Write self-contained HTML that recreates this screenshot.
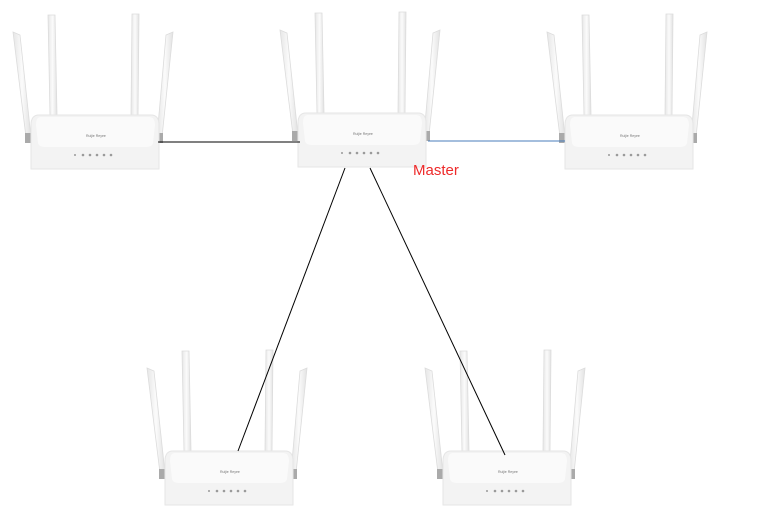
<!DOCTYPE html>
<html><head><style>
html,body{margin:0;padding:0;background:#fff;width:770px;height:523px;overflow:hidden}
</style></head><body>
<svg width="770" height="523" viewBox="0 0 770 523" xmlns="http://www.w3.org/2000/svg">
<defs>
<linearGradient id="ant" x1="0" x2="1" y1="0" y2="0">
<stop offset="0" stop-color="#e6e6e6"/><stop offset="0.5" stop-color="#fbfbfb"/><stop offset="1" stop-color="#e2e2e2"/>
</linearGradient>
<g id="r">
<polygon points="-18,-83 -11,-80 0,22 -5,22" fill="url(#ant)" stroke="#dcdcdc" stroke-width="0.8"/>
<rect x="-6" y="18" width="7" height="10" fill="#aaa"/>
<polygon points="142,-83 135,-80 126,22 131,22" fill="url(#ant)" stroke="#dcdcdc" stroke-width="0.8"/>
<rect x="125" y="18" width="7" height="10" fill="#aaa"/>
<polygon points="17,-100 24,-100 26,0 19,0" fill="url(#ant)" stroke="#dcdcdc" stroke-width="0.8"/>
<polygon points="101,-101 108,-101 107,0 100,0" fill="url(#ant)" stroke="#dcdcdc" stroke-width="0.8"/>
<path d="M8,0 H120 Q128,0 128,10 V54 H0 V10 Q0,0 8,0 Z" fill="#f3f3f3" stroke="#e6e6e6"/>
<path d="M10,2 H118 Q124,2 124,10 L122,28 Q121,32 115,32 H14 Q8,32 7,28 L5,10 Q5,2 10,2 Z" fill="#fafafa"/>
<text x="55" y="22" font-size="3.5" font-family="Liberation Sans,sans-serif" fill="#777">Ruijie  Reyee</text>
<g fill="#9a9a9a"><circle cx="44" cy="40" r="1"/><circle cx="52" cy="40" r="1.3"/><circle cx="59" cy="40" r="1.3"/><circle cx="66" cy="40" r="1.3"/><circle cx="73" cy="40" r="1.3"/><circle cx="80" cy="40" r="1.3"/></g>
</g>
</defs>
<use href="#r" x="31" y="115"/>
<use href="#r" x="298" y="113"/>
<use href="#r" x="565" y="115"/>
<use href="#r" x="165" y="451"/>
<use href="#r" x="443" y="451"/>
<line x1="158" y1="142" x2="300" y2="142" stroke="#000" stroke-width="1"/>
<line x1="428" y1="141" x2="565" y2="141" stroke="#4a7ebb" stroke-width="1"/>
<line x1="345" y1="168" x2="238" y2="451" stroke="#000" stroke-width="1"/>
<line x1="370" y1="168" x2="505" y2="455" stroke="#000" stroke-width="1"/>
<text x="413" y="175" font-size="15" font-family="Liberation Sans,sans-serif" fill="#ee2a2a">Master</text>
</svg>
</body></html>
